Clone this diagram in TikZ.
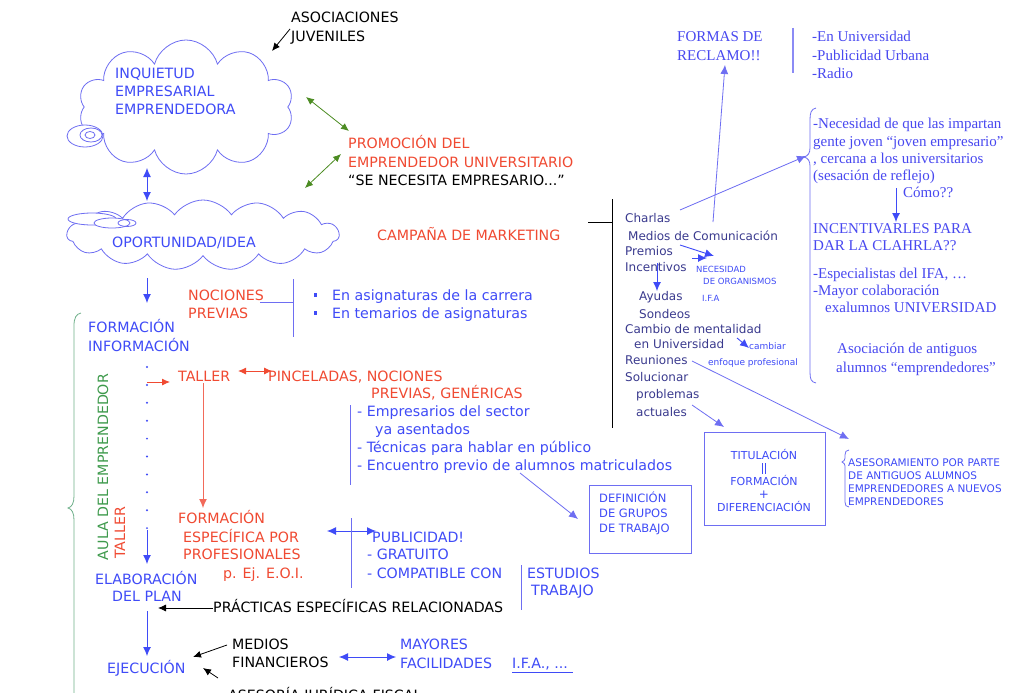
\documentclass[tikz,border=0pt]{standalone}
\usepackage{fontspec}
\setmainfont{DejaVu Sans}
\newfontfamily\rmserif{Liberation Serif}
\usetikzlibrary{shapes.symbols,arrows.meta}

\definecolor{cblue}{HTML}{3F4BF7}
\definecolor{cred}{HTML}{F04A32}
\definecolor{cpink}{HTML}{F26A5A}
\definecolor{cgreen}{HTML}{3E9A4C}
\definecolor{cgarrow}{HTML}{4C8C22}
\definecolor{cnavy}{HTML}{3A3A8E}
\definecolor{cline}{HTML}{6E6EF2}
\definecolor{cbrace}{HTML}{6FB08A}
\definecolor{cserif}{HTML}{4848F0}

\tikzset{
  lbl/.style={inner sep=0pt, anchor=base west},
  lblc/.style={inner sep=0pt, anchor=base},
  fbig/.style={font=\fontsize{14.2}{16}\selectfont},
  flist/.style={font=\fontsize{12}{14}\selectfont, text=cnavy},
  fsmall/.style={font=\fontsize{8.5}{10}\selectfont, text=cblue},
  fnote/.style={font=\fontsize{9}{11}\selectfont, text=cblue},
  fbox/.style={font=\fontsize{11.5}{13}\selectfont, text=cblue},
  fserif/.style={font=\rmserif\fontsize{15}{17}\selectfont, text=cserif},
  bluearrow/.style={draw=cblue, line width=0.9pt, -{Latex[length=9pt,width=8pt]}},
  bluedbl/.style={draw=cblue, line width=0.9pt, {Latex[length=9pt,width=8pt]}-{Latex[length=9pt,width=8pt]}},
  thinarrow/.style={draw=cline, line width=0.8pt, -{Latex[length=9pt,width=8pt]}},
  blackarrow/.style={draw=black, line width=0.8pt, -{Latex[length=8pt,width=7pt]}},
  greendbl/.style={draw=cgarrow, line width=0.8pt, {Latex[length=8pt,width=7pt]}-{Latex[length=8pt,width=7pt]}},
  bluerule/.style={draw=cline, line width=0.9pt},
  puff/.style={cloud, draw=cline, line width=0.8pt, cloud ignores aspect},
  bubble/.style={draw=cline, line width=0.8pt},
  boxed/.style={draw=cline, line width=0.9pt, inner sep=0pt},
  sqbullet/.style={fill=cblue, inner sep=0pt, minimum size=3.6pt},
}

\begin{document}
\begin{tikzpicture}[x=1pt,y=-1pt]
\useasboundingbox (0,0) rectangle (1009,693);
\fill[white] (0,0) rectangle (1009,693);

% ---------- clouds ----------
\node[puff, cloud puffs=10, minimum width=215pt, minimum height=134pt] (inq) at (186,107) {};
\draw[bubble, fill=white] (85,136) ellipse (18 and 11);
\draw[bubble] (91,135) ellipse (11 and 7);
\draw[bubble] (90,135) ellipse (5 and 3.5);
\node[lbl, fbig, text=cblue] (inq1) at (115,78) {INQUIETUD};
\node[lbl, fbig, text=cblue] (inq2) at (115,96) {EMPRESARIAL};
\node[lbl, fbig, text=cblue] (inq3) at (115,114) {EMPRENDEDORA};

\node[puff, cloud puffs=15, cloud puff arc=110, minimum width=272pt, minimum height=70pt] (opo) at (203,235) {};
\draw[bubble, fill=white] (92,219) ellipse (24 and 6);
\draw[bubble, fill=white] (112,223) ellipse (18 and 5);
\draw[bubble] (127,223) ellipse (9 and 3.5);
\node[lbl, fbig, text=cblue] (opot) at (112,247) {OPORTUNIDAD/IDEA};

% ---------- top labels ----------
\node[lbl, fbig] (aso1) at (291,23) {ASOCIACIONES};
\node[lbl, fbig] (aso2) at (291,42) {JUVENILES};
\coordinate (asoA) at (290,29);
\coordinate (asoB) at (272,51);
\draw[blackarrow] (asoA) -- (asoB);

\coordinate (inqB) at (147,168);
\coordinate (opoT) at (147,201);
\draw[bluedbl] (inqB) -- (opoT);

\node[lbl, fbig, text=cred] (pro1) at (348,148) {PROMOCIÓN DEL};
\node[lbl, fbig, text=cred] (pro2) at (348,167) {EMPRENDEDOR UNIVERSITARIO};
\node[lbl, fbig] (pro3) at (348,185) {“SE NECESITA EMPRESARIO...”};
\coordinate (g1a) at (306,97);
\coordinate (g1b) at (349,131);
\coordinate (g2a) at (305,188);
\coordinate (g2b) at (341,154);
\draw[greendbl] (g1a) -- (g1b);
\draw[greendbl] (g2a) -- (g2b);

\node[lbl, fbig, text=cred] (camp) at (377,240) {CAMPAÑA DE MARKETING};

% ---------- marketing list ----------
\coordinate (mkA) at (588,222);
\coordinate (mkB) at (612,222);
\coordinate (mkT) at (612,199);
\coordinate (mkD) at (612,428);
\draw[line width=0.9pt] (mkA) -- (mkB);
\draw[line width=0.9pt] (mkT) -- (mkD);

\node[lbl, flist] (l1) at (625,222) {Charlas};
\node[lbl, flist] (l2) at (628,240) {Medios de Comunicación};
\node[lbl, flist] (l3) at (625,255) {Premios};
\node[lbl, flist] (l4) at (625,271) {Incentivos};
\node[lbl, flist] (l5) at (639,300) {Ayudas};
\node[lbl, flist] (l6) at (639,318) {Sondeos};
\node[lbl, flist] (l7) at (625,333) {Cambio de mentalidad};
\node[lbl, flist] (l8) at (634,348) {en Universidad};
\node[lbl, flist] (l9) at (625,364) {Reuniones};
\node[lbl, flist] (l10) at (625,381) {Solucionar};
\node[lbl, flist] (l11) at (636,398) {problemas};
\node[lbl, flist] (l12) at (636,416) {actuales};

\node[lbl, fsmall] (nec1) at (696,272) {NECESIDAD};
\node[lbl, fsmall] (nec2) at (703,284) {DE ORGANISMOS};
\node[lbl, fsmall] (nec3) at (702,301) {I.F.A};
\node[lbl, fnote] (cam1) at (749,349) {cambiar};
\node[lbl, fnote] (cam2) at (708,365) {enfoque profesional};

\coordinate (pA) at (680,245);
\coordinate (pB) at (714,256);
\coordinate (pC) at (692,258);
\coordinate (pD) at (707,258);
\draw[bluearrow] (pA) -- (pB);
\draw[bluearrow] (pC) -- (pD);
\coordinate (iA) at (657,263);
\coordinate (iB) at (657,291);
\draw[bluearrow] (iA) -- (iB);
\coordinate (cA) at (737,338);
\coordinate (cB) at (749,348);
\draw[bluearrow] (cA) -- (cB);

% ---------- forms of outreach ----------
\node[lbl, fserif] (fr1) at (677,42) {FORMAS DE};
\node[lbl, fserif] (fr2) at (677,60) {RECLAMO!!};
\coordinate (frT) at (793,28);
\coordinate (frD) at (793,73);
\draw[draw=cline!80, line width=1.6pt] (frT) -- (frD);
\node[lbl, fserif] (fl1) at (812,42) {-En Universidad};
\node[lbl, fserif] (fl2) at (812,60) {-Publicidad Urbana};
\node[lbl, fserif] (fl3) at (812,78) {-Radio};
\coordinate (medT) at (713,222);
\coordinate (frB) at (725,65);
\draw[thinarrow] (medT) -- (frB);

% ---------- right column ----------
\coordinate (chA) at (680,210);
\coordinate (brTip) at (806,156);
\draw[thinarrow] (chA) -- (brTip);
\draw[draw=cline, line width=0.8pt]
  (816,108) .. controls (811,109) and (810,113) .. (810,120)
  -- (810,148) .. controls (810,153) and (808,156) .. (804,157)
  .. controls (808,158) and (810,161) .. (810,166)
  -- (810,372) .. controls (810,379) and (811,382) .. (816,383);

\node[lbl, fserif] (r1) at (813,128) {-Necesidad de que las impartan};
\node[lbl, fserif] (r2) at (813,146) {gente joven “joven empresario”};
\node[lbl, fserif] (r3) at (813,163) {, cercana a los universitarios};
\node[lbl, fserif] (r4) at (813,180) {(sesación de reflejo)};
\node[lbl, fserif] (r5) at (903,197) {Cómo??};
\coordinate (cmA) at (896,188);
\coordinate (cmB) at (896,222);
\draw[bluearrow] (cmA) -- (cmB);
\node[lbl, fserif] (r6) at (813,233) {INCENTIVARLES PARA};
\node[lbl, fserif] (r7) at (813,250) {DAR LA CLAHRLA??};
\node[lbl, fserif] (r8) at (813,278) {-Especialistas del IFA, …};
\node[lbl, fserif] (r9) at (813,295) {-Mayor colaboración};
\node[lbl, fserif] (r10) at (825,312) {exalumnos UNIVERSIDAD};
\node[lbl, fserif] (r11) at (837,353) {Asociación de antiguos};
\node[lbl, fserif] (r12) at (836,372) {alumnos “emprendedores”};

% ---------- boxes ----------
\node[boxed, minimum width=102pt, minimum height=68pt] (defbox) at (640,519) {};
\node[lbl, fbox] (d1) at (599,502) {DEFINICIÓN};
\node[lbl, fbox] (d2) at (599,517) {DE GRUPOS};
\node[lbl, fbox] (d3) at (599,532) {DE TRABAJO};

\node[boxed, minimum width=121pt, minimum height=93pt] (titbox) at (764.5,478.5) {};
\node[lblc, font=\fontsize{11}{13}\selectfont, text=cblue] (t1) at (764,459) {TITULACIÓN};
\coordinate (eqA) at (762.5,463);
\coordinate (eqB) at (762.5,474);
\coordinate (eqC) at (765.5,463);
\coordinate (eqD) at (765.5,474);
\draw[draw=cblue, line width=0.7pt] (eqA) -- (eqB) (eqC) -- (eqD);
\node[lblc, font=\fontsize{11}{13}\selectfont, text=cblue] (t3) at (764,485) {FORMACIÓN};
\node[inner sep=0pt, font=\fontsize{12}{13}\selectfont, text=cblue] (t4) at (764,495) {+};
\node[lblc, font=\fontsize{11}{13}\selectfont, text=cblue] (t5) at (764,511) {DIFERENCIACIÓN};

\coordinate (actA) at (692,405);
\coordinate (actB) at (724,427);
\draw[thinarrow] (actA) -- (actB);
\coordinate (reuA) at (692,361);
\coordinate (reuB) at (849,439);
\draw[thinarrow] (reuA) -- (reuB);

\draw[draw=cline, line width=0.8pt]
  (849,450) .. controls (846,450) and (845,452) .. (845,455)
  -- (845,458) .. controls (845,460) and (844,461) .. (842,462)
  .. controls (844,463) and (845,464) .. (845,466)
  -- (845,502) .. controls (845,505) and (846,507) .. (849,507);
\node[lbl, font=\fontsize{10.5}{12}\selectfont, text=cblue] (as1) at (848,466) {ASESORAMIENTO POR PARTE};
\node[lbl, font=\fontsize{10.5}{12}\selectfont, text=cblue] (as2) at (848,479) {DE ANTIGUOS ALUMNOS};
\node[lbl, font=\fontsize{10.5}{12}\selectfont, text=cblue] (as3) at (848,492) {EMPRENDEDORES A NUEVOS};
\node[lbl, font=\fontsize{10.5}{12}\selectfont, text=cblue] (as4) at (848,505) {EMPRENDEDORES};

% ---------- left column ----------
\coordinate (opoB) at (147,278);
\coordinate (forT) at (147,303);
\draw[bluearrow] (opoB) -- (forT);

\node[lbl, fbig, text=cred] (noc1) at (188,300) {NOCIONES};
\node[lbl, fbig, text=cred] (noc2) at (188,318) {PREVIAS};
\coordinate (nA) at (260,302);
\coordinate (nB) at (293,302);
\coordinate (nT) at (293,279);
\coordinate (nD) at (293,337);
\draw[bluerule] (nA) -- (nB);
\draw[bluerule] (nT) -- (nD);
\node[sqbullet] (b1) at (315.5,295) {};
\node[sqbullet] (b2) at (315.5,313) {};
\node[lbl, fbig, text=cblue] (n1) at (332,300) {En asignaturas de la carrera};
\node[lbl, fbig, text=cblue] (n2) at (332,318) {En temarios de asignaturas};

\node[lbl, fbig, text=cblue] (for1) at (88,332) {FORMACIÓN};
\node[lbl, fbig, text=cblue] (for2) at (88,351) {INFORMACIÓN};

% green brace and rotated labels
\draw[draw=cbrace, line width=0.8pt]
  (81,313) .. controls (76,314) and (74,318) .. (74,326)
  -- (74,496) .. controls (74,503) and (72,507) .. (68,508)
  .. controls (72,509) and (74,513) .. (74,520)
  -- (74,700);
\node[inner sep=0pt, fbig, text=cgreen, rotate=90] (aula) at (103,467) {AULA DEL EMPRENDEDOR};
\node[inner sep=0pt, fbig, text=cred, rotate=90] (tallv) at (120,533) {TALLER};

% dotted path down to the plan
\foreach \k in {0,...,9} {
  \fill[cblue] (147,367+17.9*\k) circle (1.1);
}
\coordinate (dotE) at (147,530);
\coordinate (elaT) at (147,564);
\draw[bluearrow] (dotE) -- (elaT);

\coordinate (tA) at (147,382);
\coordinate (tB) at (170,382);
\draw[draw=cred, line width=0.9pt, -{Latex[length=8pt,width=7pt]}] (tA) -- (tB);
\node[lbl, fbig, text=cred] (tal) at (178,381) {TALLER};
\coordinate (tdA) at (238,371);
\coordinate (tdB) at (272,371);
\draw[draw=cred, line width=0.9pt, {Latex[length=8pt,width=7pt]}-{Latex[length=8pt,width=7pt]}] (tdA) -- (tdB);
\node[lbl, fbig, text=cred] (pin1) at (268,381) {PINCELADAS, NOCIONES};
\node[lbl, fbig, text=cred] (pin2) at (371,398) {PREVIAS, GENÉRICAS};
\coordinate (tvA) at (203,383);
\coordinate (tvB) at (203,508);
\draw[draw=cpink, line width=1pt, -{Latex[length=9pt,width=8pt]}] (tvA) -- (tvB);

\coordinate (eT) at (350,405);
\coordinate (eD) at (350,485);
\draw[bluerule] (eT) -- (eD);
\node[lbl, fbig, text=cblue] (e1) at (357,416) {- Empresarios del sector};
\node[lbl, fbig, text=cblue] (e2) at (375,434) {ya asentados};
\node[lbl, fbig, text=cblue] (e3) at (357,452) {- Técnicas para hablar en público};
\node[lbl, fbig, text=cblue] (e4) at (357,470) {- Encuentro previo de alumnos matriculados};
\coordinate (encA) at (520,473);
\coordinate (defA) at (578,519);
\draw[thinarrow] (encA) -- (defA);

\node[lbl, fbig, text=cred] (fe1) at (178,523) {FORMACIÓN};
\node[lbl, fbig, text=cred] (fe2) at (183,542) {ESPECÍFICA POR};
\node[lbl, fbig, text=cred] (fe3) at (183,559) {PROFESIONALES};
\node[lbl, fbig, text=cred] (fe4) at (223,578) {p. Ej. E.O.I.};

\coordinate (puA) at (327,531);
\coordinate (puB) at (376,531);
\draw[bluedbl] (puA) -- (puB);
\coordinate (puT) at (351,518);
\coordinate (puD) at (351,588);
\draw[bluerule] (puT) -- (puD);
\node[lbl, fbig, text=cblue] (pu1) at (372,542) {PUBLICIDAD!};
\node[lbl, fbig, text=cblue] (pu2) at (367,559) {- GRATUITO};
\node[lbl, fbig, text=cblue] (pu3) at (367,578) {- COMPATIBLE CON};
\coordinate (esT) at (521,565);
\coordinate (esD) at (521,610);
\draw[bluerule] (esT) -- (esD);
\node[lbl, fbig, text=cblue] (es1) at (527,578) {ESTUDIOS};
\node[lbl, fbig, text=cblue] (es2) at (531,595) {TRABAJO};

\node[lbl, fbig, text=cblue] (ela1) at (95,584) {ELABORACIÓN};
\node[lbl, fbig, text=cblue] (ela2) at (112,601) {DEL PLAN};
\node[lbl, fbig] (pra) at (213,612) {PRÁCTICAS ESPECÍFICAS RELACIONADAS};
\coordinate (praA) at (213,608);
\coordinate (elaR) at (158,608);
\draw[blackarrow] (praA) -- (elaR);

\coordinate (elaB) at (147,611);
\coordinate (ejeT) at (147,656);
\draw[bluearrow] (elaB) -- (ejeT);
\node[lbl, fbig, text=cblue] (eje) at (107,673) {EJECUCIÓN};

\node[lbl, fbig] (med1) at (232,649) {MEDIOS};
\node[lbl, fbig] (med2) at (232,667) {FINANCIEROS};
\coordinate (mfA) at (227,645);
\coordinate (mfB) at (193,657);
\draw[blackarrow] (mfA) -- (mfB);
\coordinate (ajA) at (218,678);
\coordinate (ajB) at (203,668);
\draw[blackarrow] (ajA) -- (ajB);
\node[lbl, fbig] (aj) at (228,700) {ASESORÍA JURÍDICA-FISCAL};

\coordinate (myA) at (339,657);
\coordinate (myB) at (396,657);
\draw[bluedbl] (myA) -- (myB);
\node[lbl, fbig, text=cblue] (my1) at (400,649) {MAYORES};
\node[lbl, fbig, text=cblue] (my2) at (400,668) {FACILIDADES};
\node[lbl, fbig, text=cblue] (ifa) at (512,668) {I.F.A., ...};
\coordinate (ulA) at (512,672);
\coordinate (ulB) at (573,672);
\draw[draw=cblue, line width=0.7pt] (ulA) -- (ulB);
\end{tikzpicture}
\end{document}
